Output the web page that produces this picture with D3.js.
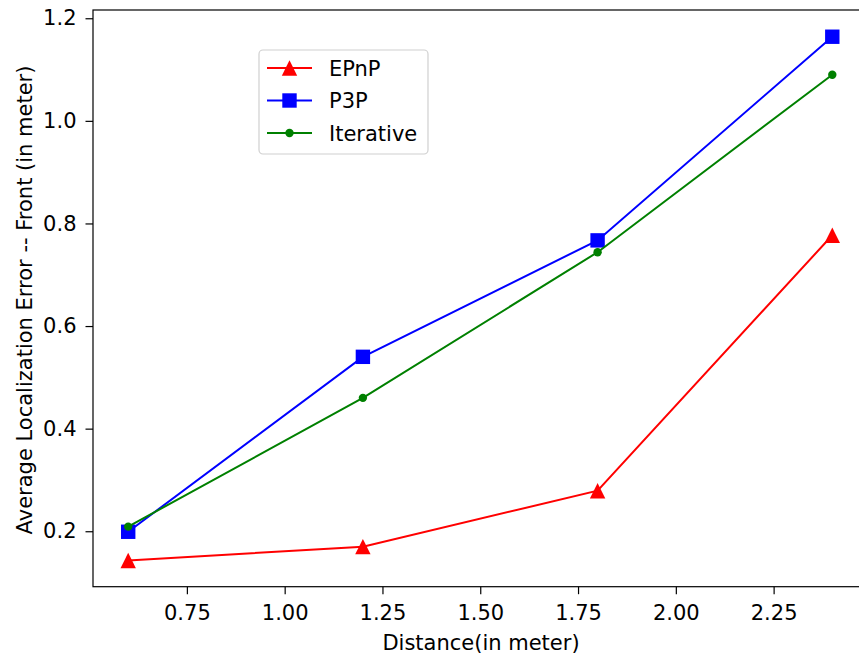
<!DOCTYPE html>
<html><head><meta charset="utf-8">
<script src="https://cdn.jsdelivr.net/npm/d3@7"></script>
<style>body{margin:0;background:#fff}svg{display:block}text{font-family:"DejaVu Sans",sans-serif;fill:#000}</style>
</head><body>
<svg id="c" width="859" height="658"></svg>
<script>
const distances = [0.6, 1.2, 1.8, 2.4];
const epnp = [0.143, 0.170, 0.279, 0.777];
const p3p = [0.199, 0.540, 0.767, 1.164];
const iterative = [0.209, 0.460, 0.744, 1.090];
const xTicks = [0.75, 1.00, 1.25, 1.50, 1.75, 2.00, 2.25];
const yTicks = [0.2, 0.4, 0.6, 0.8, 1.0, 1.2];
const seriesNames = ["EPnP", "P3P", "Iterative"];

const FS = 21;
const svg = d3.select("#c");
const L = 93, R = 867.5, T = 10, B = 586.7;
const x = d3.scaleLinear().domain([0.51, 2.49]).range([L, R]);
const y = d3.scaleLinear().domain([0.0919, 1.2161]).range([B, T]);

const series = [
  {name: seriesNames[0], vals: epnp, color: "#ff0000", marker: "tri"},
  {name: seriesNames[1], vals: p3p, color: "#0000ff", marker: "sq"},
  {name: seriesNames[2], vals: iterative, color: "#008000", marker: "dot"}
];

function drawMarker(g, type, color, cx, cy) {
  if (type === "tri") {
    const s = 7.7;
    g.append("path").attr("d", `M${cx},${cy - s}L${cx + s},${cy + s}L${cx - s},${cy + s}Z`).attr("fill", color);
  } else if (type === "sq") {
    const s = 7.2;
    g.append("rect").attr("x", cx - s).attr("y", cy - s).attr("width", 2 * s).attr("height", 2 * s).attr("fill", color);
  } else {
    g.append("circle").attr("cx", cx).attr("cy", cy).attr("r", 4.2).attr("fill", color);
  }
}

const plot = svg.append("g");
const line = d3.line().x((d, i) => x(distances[i])).y(d => y(d));
series.forEach(s => {
  plot.append("path").datum(s.vals).attr("d", line).attr("fill", "none").attr("stroke", s.color).attr("stroke-width", 2);
  s.vals.forEach((v, i) => drawMarker(plot, s.marker, s.color, x(distances[i]), y(v)));
});

// axes
const xAxis = svg.append("g").attr("transform", `translate(0,${B})`)
  .call(d3.axisBottom(x).tickValues(xTicks).tickFormat(d3.format(".2f")).tickSizeOuter(0).tickSize(7.5).tickPadding(10.5));
const yAxis = svg.append("g").attr("transform", `translate(${L},0)`)
  .call(d3.axisLeft(y).tickValues(yTicks).tickFormat(d3.format(".1f")).tickSizeOuter(0).tickSize(7.5).tickPadding(9));
[xAxis, yAxis].forEach(a => {
  a.select(".domain").remove();
  a.selectAll("line").attr("stroke", "#000").attr("stroke-width", 1.2);
  a.selectAll("text").attr("font-size", FS).attr("font-family", "DejaVu Sans").attr("fill", "#000");
});
// spines
svg.append("rect").attr("x", L).attr("y", T).attr("width", R - L).attr("height", B - T)
  .attr("fill", "none").attr("stroke", "#000").attr("stroke-width", 1.2);

svg.append("text").attr("x", 481).attr("y", 650).attr("text-anchor", "middle").attr("font-size", FS).text("Distance(in meter)");
svg.append("text").attr("transform", `translate(32,${300}) rotate(-90)`).attr("text-anchor", "middle").attr("font-size", FS).text("Average Localization Error -- Front (in meter)");

// legend
const lg = svg.append("g");
lg.append("rect").attr("x", 259).attr("y", 50).attr("width", 169).attr("height", 104).attr("rx", 4)
  .attr("fill", "#fff").attr("fill-opacity", 0.8).attr("stroke", "#d0d0d0").attr("stroke-width", 1.2);
series.forEach((s, i) => {
  const cy = 68 + i * 32.5;
  lg.append("line").attr("x1", 267).attr("x2", 312).attr("y1", cy).attr("y2", cy).attr("stroke", s.color).attr("stroke-width", 2);
  drawMarker(lg, s.marker, s.color, 289.5, cy);
  lg.append("text").attr("x", 329).attr("y", cy + 7.5).attr("font-size", FS).text(s.name);
});
</script>
</body></html>
